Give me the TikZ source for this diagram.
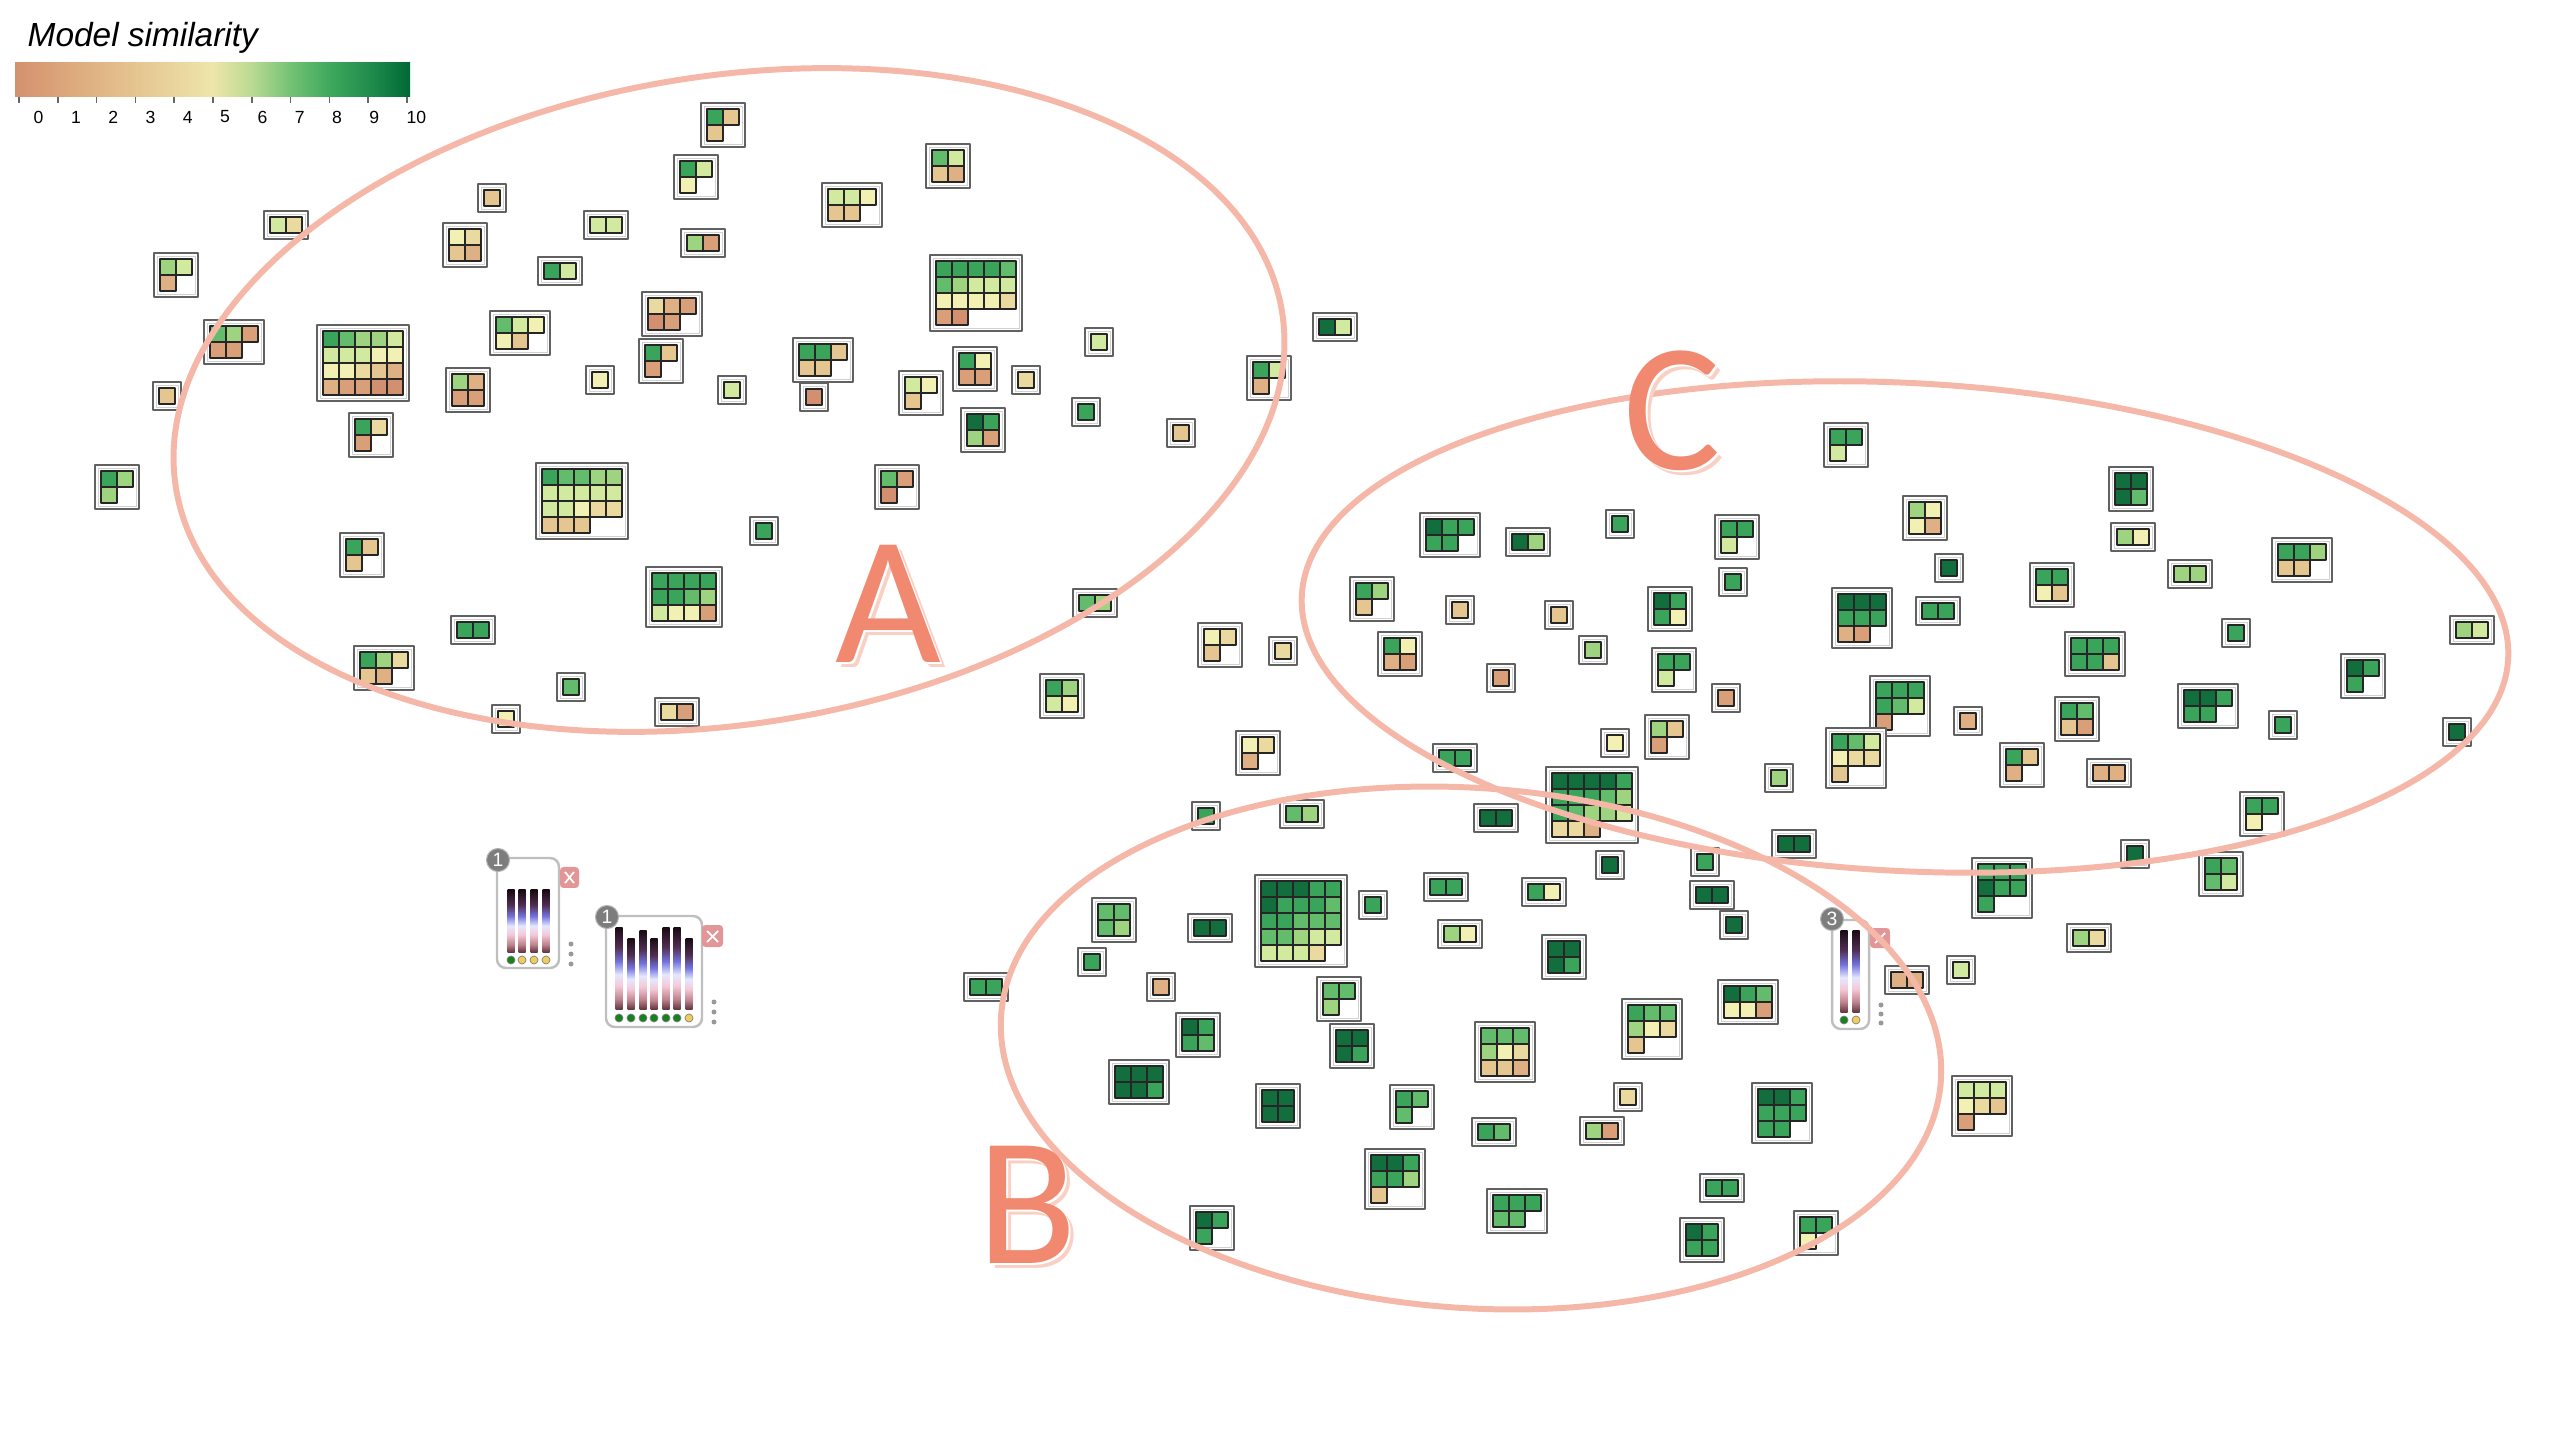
\documentclass[tikz,border=0pt]{standalone}
\usepackage{fontspec}
\setmainfont{Liberation Sans}
\newfontfamily\letterfont{Carlito}
% cell colours (model similarity 0..10)
\definecolor{s0}{RGB}{211,144,112}
\definecolor{s1}{RGB}{217,159,120}
\definecolor{s2}{RGB}{222,176,131}
\definecolor{s3}{RGB}{229,198,144}
\definecolor{s4}{RGB}{235,218,159}
\definecolor{s5}{RGB}{242,240,178}
\definecolor{s6}{RGB}{210,234,160}
\definecolor{s7}{RGB}{158,212,128}
\definecolor{s8}{RGB}{98,188,108}
\definecolor{s9}{RGB}{58,165,90}
\definecolor{s10}{RGB}{18,110,60}
% colour bar
\definecolor{cb0}{RGB}{212,145,110}
\definecolor{cb2}{RGB}{224,179,131}
\definecolor{cb5}{RGB}{238,229,169}
\definecolor{cb6}{RGB}{185,218,146}
\definecolor{cb7}{RGB}{114,193,116}
\definecolor{cb8}{RGB}{61,167,92}
\definecolor{cb9}{RGB}{32,140,76}
\definecolor{cb10}{RGB}{0,104,55}
% ribbons of the model cards
\definecolor{rb1}{RGB}{100,55,65}
\definecolor{rb2}{RGB}{190,130,140}
\definecolor{rb3}{RGB}{245,200,215}
\definecolor{rb4}{RGB}{228,232,255}
\definecolor{rb5}{RGB}{115,115,222}
\definecolor{rb6}{RGB}{80,45,80}
\definecolor{rb7}{RGB}{25,10,18}
\definecolor{ringline}{RGB}{245,184,168}
\definecolor{lettercol}{RGB}{240,137,112}
\definecolor{lettershadow}{RGB}{249,208,196}
\definecolor{closebox}{RGB}{226,150,152}
\definecolor{badgegray}{RGB}{125,125,125}
\definecolor{dotgreen}{RGB}{20,130,30}
\definecolor{dotyellow}{RGB}{240,205,90}
\pgfdeclarehorizontalshading{simscale}{100bp}{color(0bp)=(cb0); color(25bp)=(cb0); color(35bp)=(cb2); color(50bp)=(cb5); color(55bp)=(cb6); color(60bp)=(cb7); color(65bp)=(cb8); color(70bp)=(cb9); color(75bp)=(cb10); color(100bp)=(cb10)}
\pgfdeclareverticalshading{ribbon}{100bp}{color(0bp)=(rb1); color(25bp)=(rb1); color(31bp)=(rb2); color(39bp)=(rb3); color(46bp)=(rb4); color(54bp)=(rb5); color(63bp)=(rb6); color(75bp)=(rb7); color(100bp)=(rb7)}
\tikzset{
  glyphframe/.style={draw=black!62, line width=0.55pt, fill=white},
  glyphinner/.style={draw=black!18, line width=0.25pt},
  cellbox/.style={draw=black!85, line width=0.35pt},
  ringline/.style={draw=ringline, line width=1.7pt},
  letterbig/.style={font=\letterfont\fontsize{52}{52}\selectfont, inner sep=0pt, anchor=base},
  cardline/.style={draw=black!25, line width=0.7pt, fill=white, rounded corners=2.5pt},
  badge/.style={circle, fill=badgegray, draw=black!30, line width=0.3pt, text=white, inner sep=0pt, minimum size=0.23cm, font=\fontsize{5.5}{6}\selectfont},
  dotrim/.style={draw=black!50, line width=0.2pt},
  menudot/.style={fill=black!40},
  tickline/.style={draw=black!60, line width=0.5pt}
}
% top-left corner, columns, rows, cell values (-1 = empty cell)
\newcommand{\glyph}[5]{%
  \draw[glyphframe] (#1,#2) rectangle ++({#3*16+12},{#4*16+12});
  \draw[glyphinner] (#1+3,#2+3) rectangle ++({#3*16+6},{#4*16+6});
  \foreach \v [count=\i from 0] in {#5} {
    \pgfmathtruncatemacro\gc{mod(\i,#3)}
    \pgfmathtruncatemacro\gr{div(\i,#3)}
    \ifnum\v>-1 \draw[cellbox, fill=s\v] (#1+6+\gc*16,#2+6+\gr*16) rectangle ++(16,16); \fi
  }}
% group letter: shadow, white rim, letter
\newcommand{\grouplabel}[3]{%
  \node[letterbig, text=lettershadow] (shadow#3) at (#1+5,#2+5) {#3};
  \node[letterbig, text=white] (rim#3) at (#1+2,#2+2) {#3};
  \node[letterbig, text=lettercol] (label#3) at (#1,#2) {#3};}
\begin{document}
\begin{tikzpicture}[x=0.01cm, y=-0.01cm, line join=round]
\useasboundingbox (0,0) rectangle (2560,1440);
% legend
\node[anchor=base west, inner sep=0pt, font=\fontsize{9.5}{11}\selectfont\itshape] (legendtitle) at (27,47) {Model similarity};
\shade[shading=simscale] (15,63) rectangle (410,97);
\foreach \k in {0,...,10} {
  \draw[tickline] ({19+38.8*\k},97) -- ++(0,6);
  \node[anchor=west, inner sep=0pt, font=\fontsize{5}{6}\selectfont] (tick\k) at ({33+37.3*\k},117) {\k};
}
% group A
\glyph{701}{103}{2}{2}{9,3,3,-1}
\glyph{674}{155}{2}{2}{9,6,5,-1}
\glyph{822}{183}{3}{2}{6,6,5,3,3,-1}
\glyph{478}{184}{1}{1}{3}
\glyph{264}{211}{2}{1}{6,4}
\glyph{443}{223}{2}{2}{5,4,3,2}
\glyph{584}{211}{2}{1}{6,6}
\glyph{681}{229}{2}{1}{7,1}
\glyph{538}{257}{2}{1}{9,6}
\glyph{154}{253}{2}{2}{7,6,2,-1}
\glyph{642}{292}{3}{2}{4,2,1,0,1,-1}
\glyph{204}{320}{3}{2}{8,7,1,1,1,-1}
\glyph{317}{325}{5}{4}{9,8,7,7,6,6,6,6,5,5,5,5,4,3,2,2,1,1,0,0}
\glyph{490}{311}{3}{2}{8,6,5,5,3,-1}
\glyph{639}{339}{2}{2}{9,3,1,-1}
\glyph{793}{338}{3}{2}{9,9,3,3,3,-1}
\glyph{153}{382}{1}{1}{3}
\glyph{446}{368}{2}{2}{7,2,1,1}
\glyph{586}{366}{1}{1}{5}
\glyph{718}{376}{1}{1}{6}
\glyph{800}{383}{1}{1}{0}
\glyph{349}{413}{2}{2}{9,4,1,-1}
\glyph{95}{465}{2}{2}{9,7,7,-1}
\glyph{536}{463}{5}{4}{9,8,8,7,7,6,6,6,6,6,6,6,5,4,4,3,3,3,-1,-1}
\glyph{750}{517}{1}{1}{9}
\glyph{340}{533}{2}{2}{9,3,3,-1}
\glyph{646}{567}{4}{3}{9,9,9,9,9,9,8,7,6,5,5,1}
\glyph{451}{616}{2}{1}{9,9}
\glyph{354}{646}{3}{2}{9,7,4,3,2,-1}
\glyph{557}{673}{1}{1}{8}
\glyph{492}{705}{1}{1}{5}
\glyph{655}{698}{2}{1}{4,1}
\glyph{926}{144}{2}{2}{8,6,3,2}
\glyph{930}{255}{5}{4}{9,9,9,9,8,8,7,6,6,6,5,5,5,5,4,1,0,-1,-1,-1}
\glyph{1085}{328}{1}{1}{6}
\glyph{1313}{313}{2}{1}{10,6}
\glyph{953}{347}{2}{2}{9,5,1,1}
\glyph{899}{371}{2}{2}{6,5,3,-1}
\glyph{1012}{366}{1}{1}{4}
\glyph{1247}{356}{2}{2}{9,6,2,-1}
\glyph{1072}{398}{1}{1}{9}
\glyph{961}{408}{2}{2}{10,9,7,1}
\glyph{1167}{419}{1}{1}{3}
\glyph{875}{465}{2}{2}{8,1,0,-1}
% between the groups
\glyph{1073}{589}{2}{1}{8,7}
\glyph{1198}{623}{2}{2}{5,4,3,-1}
\glyph{1269}{637}{1}{1}{4}
\glyph{1040}{674}{2}{2}{9,7,6,5}
\glyph{1236}{731}{2}{2}{5,4,2,-1}
\glyph{1192}{802}{1}{1}{9}
\glyph{1280}{800}{2}{1}{8,7}
% group C
\glyph{1350}{577}{2}{2}{9,7,3,-1}
\glyph{1446}{596}{1}{1}{3}
\glyph{1545}{601}{1}{1}{3}
\glyph{1378}{632}{2}{2}{9,5,2,1}
\glyph{1487}{664}{1}{1}{1}
\glyph{1579}{636}{1}{1}{7}
\glyph{1420}{513}{3}{2}{10,9,9,9,9,-1}
\glyph{1506}{528}{2}{1}{10,7}
\glyph{1606}{510}{1}{1}{9}
\glyph{1433}{744}{2}{1}{9,9}
\glyph{1474}{804}{2}{1}{10,10}
\glyph{1546}{767}{5}{4}{10,10,10,10,9,9,9,9,8,7,9,8,7,7,6,4,4,2,-1,-1}
\glyph{1601}{729}{1}{1}{5}
\glyph{1645}{715}{2}{2}{7,3,1,-1}
\glyph{1596}{851}{1}{1}{10}
\glyph{1824}{423}{2}{2}{9,9,6,-1}
\glyph{2109}{467}{2}{2}{10,10,10,8}
\glyph{1903}{496}{2}{2}{7,5,5,2}
\glyph{1715}{515}{2}{2}{9,9,6,-1}
\glyph{2111}{523}{2}{1}{7,5}
\glyph{2272}{538}{3}{2}{9,9,7,3,3,-1}
\glyph{1935}{554}{1}{1}{10}
\glyph{1719}{568}{1}{1}{9}
\glyph{2030}{563}{2}{2}{9,9,5,3}
\glyph{2168}{560}{2}{1}{7,7}
\glyph{1648}{587}{2}{2}{10,9,9,5}
\glyph{1832}{588}{3}{3}{10,10,10,9,9,9,2,1,-1}
\glyph{1916}{597}{2}{1}{9,9}
\glyph{2222}{619}{1}{1}{9}
\glyph{2450}{616}{2}{1}{7,6}
\glyph{2065}{632}{3}{2}{9,9,9,9,9,3}
\glyph{1652}{648}{2}{2}{9,9,6,-1}
\glyph{2341}{654}{2}{2}{10,9,9,-1}
\glyph{1712}{684}{1}{1}{1}
\glyph{1870}{676}{3}{3}{9,9,9,9,8,6,1,-1,-1}
\glyph{2178}{684}{3}{2}{10,10,9,9,9,-1}
\glyph{1954}{707}{1}{1}{2}
\glyph{2055}{697}{2}{2}{9,8,3,1}
\glyph{2269}{711}{1}{1}{9}
\glyph{2443}{718}{1}{1}{10}
\glyph{1826}{728}{3}{3}{9,8,6,5,4,4,3,-1,-1}
\glyph{1765}{764}{1}{1}{7}
\glyph{2000}{743}{2}{2}{9,3,2,-1}
\glyph{2087}{759}{2}{1}{2,2}
\glyph{2240}{792}{2}{2}{9,9,5,-1}
\glyph{1772}{830}{2}{1}{10,10}
\glyph{2121}{840}{1}{1}{10}
\glyph{2199}{852}{2}{2}{9,8,8,6}
% group B
\glyph{1424}{873}{2}{1}{9,9}
\glyph{1522}{878}{2}{1}{9,5}
\glyph{1438}{920}{2}{1}{7,5}
\glyph{1542}{935}{2}{2}{10,10,10,9}
\glyph{1359}{891}{1}{1}{9}
\glyph{1255}{875}{5}{5}{10,10,10,9,9,10,9,9,9,8,9,9,8,8,8,8,8,7,6,6,6,6,6,4,-1}
\glyph{1188}{914}{2}{1}{10,10}
\glyph{1092}{898}{2}{2}{8,8,8,7}
\glyph{1078}{948}{1}{1}{9}
\glyph{964}{973}{2}{1}{9,9}
\glyph{1147}{973}{1}{1}{2}
\glyph{1317}{977}{2}{2}{8,8,7,-1}
\glyph{1176}{1013}{2}{2}{10,9,9,8}
\glyph{1330}{1024}{2}{2}{10,10,10,9}
\glyph{1109}{1060}{3}{2}{10,10,10,10,10,9}
\glyph{1475}{1022}{3}{3}{8,8,8,7,5,4,3,3,2}
\glyph{1622}{999}{3}{3}{9,8,8,7,5,4,3,-1,-1}
\glyph{1718}{980}{3}{2}{10,9,8,5,5,1}
\glyph{1256}{1084}{2}{2}{10,10,10,10}
\glyph{1390}{1085}{2}{2}{9,8,8,-1}
\glyph{1472}{1118}{2}{1}{9,8}
\glyph{1614}{1083}{1}{1}{4}
\glyph{1580}{1117}{2}{1}{7,1}
\glyph{1365}{1149}{3}{3}{10,10,9,9,9,7,3,-1,-1}
\glyph{1487}{1189}{3}{2}{9,9,9,8,8,-1}
\glyph{1190}{1206}{2}{2}{10,9,9,-1}
\glyph{1700}{1174}{2}{1}{9,9}
\glyph{1680}{1218}{2}{2}{10,9,9,9}
\glyph{1691}{848}{1}{1}{9}
\glyph{1690}{881}{2}{1}{10,10}
\glyph{1720}{911}{1}{1}{10}
\glyph{1752}{1083}{3}{3}{10,10,9,9,9,9,9,9,-1}
\glyph{1794}{1211}{2}{2}{9,9,5,-1}
\glyph{1885}{966}{2}{1}{2,2}
\glyph{1947}{956}{1}{1}{6}
\glyph{2067}{924}{2}{1}{7,4}
\glyph{1952}{1076}{3}{3}{6,6,6,5,4,3,1,-1,-1}
\glyph{1972}{858}{3}{3}{9,9,9,10,9,9,9,-1,-1}
% model cards
\draw[cardline] (497,858) rectangle (559,968);
\fill[closebox, rounded corners=1pt] (560,867) rectangle (579,888);
\draw[white, line width=0.5pt] (565,872) -- (574,883) (565,883) -- (574,872);
\foreach \bx in {511,522,534,546} \shade[shading=ribbon] (\bx-3.5,890) rectangle (\bx+3.5,952);
\foreach \bx/\dc in {511/dotgreen,522/dotyellow,534/dotyellow,546/dotyellow} \filldraw[dotrim, fill=\dc] (\bx,960) circle (4);
\foreach \my in {944,954,964} \fill[menudot] (571,\my) circle (2.5);
\node[badge] (cardone) at (498,860) {1};
\draw[cardline] (606,916) rectangle (702,1027);
\fill[closebox, rounded corners=1pt] (702,925) rectangle (723,947);
\draw[white, line width=0.5pt] (707,931) -- (718,942) (707,942) -- (718,931);
\foreach \bx/\bt in {619/927,631/938,643/930,654/938,666/927,677/927,689/938} \shade[shading=ribbon] (\bx-3.5,\bt) rectangle (\bx+3.5,1009);
\foreach \bx/\dc in {619/dotgreen,631/dotgreen,643/dotgreen,654/dotgreen,666/dotgreen,677/dotgreen,689/dotyellow} \filldraw[dotrim, fill=\dc] (\bx,1018) circle (4);
\foreach \my in {1002,1012,1022} \fill[menudot] (714,\my) circle (2.5);
\node[badge] (cardtwo) at (607,917) {1};
\draw[cardline] (1832,920) rectangle (1869,1029);
\fill[closebox, rounded corners=1pt] (1870,928) rectangle (1890,948);
\draw[white, line width=0.5pt] (1875,933) -- (1885,943) (1875,943) -- (1885,933);
\foreach \bx in {1844,1856} \shade[shading=ribbon] (\bx-3.5,930) rectangle (\bx+3.5,1012);
\foreach \bx/\dc in {1844/dotgreen,1856/dotyellow} \filldraw[dotrim, fill=\dc] (\bx,1020) circle (4);
\foreach \my in {1005,1014,1023} \fill[menudot] (1881,\my) circle (2.5);
\node[badge] (cardthree) at (1832,919) {3};
% groups
\draw[ringline, rotate around={9:(729,400)}] (729,400) ellipse [x radius=560, y radius=324];
\draw[ringline, rotate around={-4:(1471,1048)}] (1471,1048) ellipse [x radius=471, y radius=260];
\draw[ringline, rotate around={-3:(1905,627)}] (1905,627) ellipse [x radius=604, y radius=244];
\grouplabel{888}{663}{A}
\grouplabel{1027}{1263}{B}
\grouplabel{1672}{470}{C}
\end{tikzpicture}
\end{document}
